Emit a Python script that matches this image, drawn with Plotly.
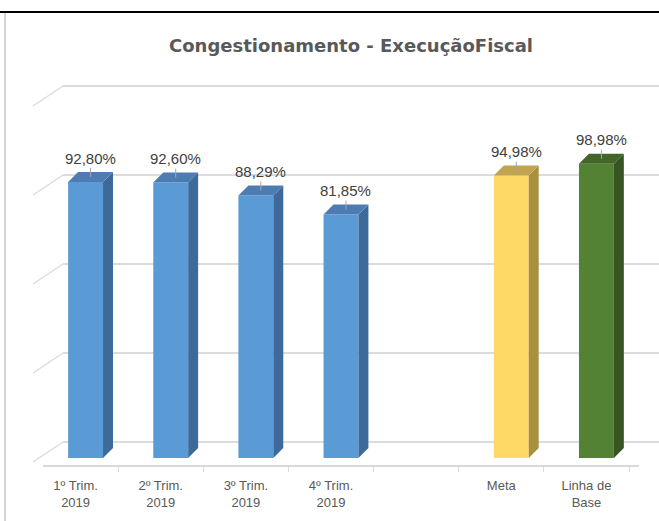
import plotly.graph_objects as go

# ---------------- data ----------------
categories = ["1º Trim.<br>2019", "2º Trim.<br>2019", "3º Trim.<br>2019", "4º Trim.<br>2019",
              " ", "Meta", "Linha de<br>Base"]
values = [92.80, 92.60, 88.29, 81.85, None, 94.98, 98.98]
series_kind = ["trim", "trim", "trim", "trim", None, "meta", "base"]
grid_values = [0, 30, 60, 90, 120]
title_text = "Congestionamento - ExecuçãoFiscal"

# ---------------- styles ----------------
W, H = 659, 521
ml, mr, mt, mb = 43, 20, 60, 56
colors = {
    "trim": {"front": "#5b9bd5", "side": "#3d6a9b", "top": "#4d7cb2"},
    "meta": {"front": "#ffd966", "side": "#a8903f", "top": "#c2a44f"},
    "base": {"front": "#548235", "side": "#365522", "top": "#42652a"},
}
bar_w = 0.41      # front face width (category units)
dx = 0.117        # 3-D depth offset in x (category units)
dy = 3.36         # 3-D depth offset in y (value units)


def pxx(p):
    return (p - ml) / (W - ml - mr)


def pxy(p):
    return (H - mb - p) / (H - mt - mb)


x_pos = list(range(len(categories)))

fig = go.Figure()

# front faces
for k in ["trim", "meta", "base"]:
    xs = [x for x, s in zip(x_pos, series_kind) if s == k]
    ys = [v for v, s in zip(values, series_kind) if s == k]
    fig.add_trace(go.Bar(x=xs, y=ys, width=bar_w, marker=dict(color=colors[k]["front"], line=dict(width=0)),
                         hoverinfo="skip", showlegend=False))

# side and top faces (derived from the values)
for x, v, s in zip(x_pos, values, series_kind):
    if v is None:
        continue
    r = x + bar_w / 2
    l = x - bar_w / 2
    side_x = [r, r + dx, r + dx, r, r]
    side_y = [0, dy, v + dy, v, 0]
    top_x = [l, r, r + dx, l + dx, l]
    top_y = [v, v, v + dy, v + dy, v]
    fig.add_trace(go.Scatter(x=side_x, y=side_y, mode="lines", fill="toself",
                             fillcolor=colors[s]["side"], line=dict(width=0),
                             hoverinfo="skip", showlegend=False))
    fig.add_trace(go.Scatter(x=top_x, y=top_y, mode="lines", fill="toself",
                             fillcolor=colors[s]["top"], line=dict(width=0),
                             hoverinfo="skip", showlegend=False))
    fig.add_annotation(x=x + dx / 2, y=v + dy / 2, xref="x", yref="y",
                       text=f"{v:.2f}".replace(".", ",") + "%",
                       showarrow=True, arrowhead=0, arrowwidth=1, arrowcolor="#a6a6a6",
                       ax=0, ay=-19, standoff=0,
                       font=dict(family="Liberation Sans, Arial", size=15, color="#404040"))

# label axis dummy trace (category axis for tick labels)
fig.add_trace(go.Scatter(x=categories, y=[None] * len(categories), xaxis="x2", yaxis="y2",
                         mode="markers", hoverinfo="skip", showlegend=False))

# back-wall gridlines and side-wall diagonals
for g in grid_values:
    fig.add_shape(type="line", xref="paper", yref="y2", x0=pxx(63), x1=pxx(W), y0=g, y1=g,
                  line=dict(color="#dcdcdc", width=2), layer="below")
    fig.add_shape(type="line", xref="paper", yref="y2", ysizemode="pixel", yanchor=g,
                  x0=pxx(33), x1=pxx(63), y0=-20, y1=0,
                  line=dict(color="#dcdcdc", width=1.5), layer="below")

# outer frame decorations
fig.add_shape(type="line", xref="paper", yref="paper", x0=pxx(0), x1=pxx(W), y0=pxy(12), y1=pxy(12),
              line=dict(color="#000000", width=2))
fig.add_shape(type="line", xref="paper", yref="paper", x0=pxx(5), x1=pxx(5), y0=pxy(H), y1=pxy(13),
              line=dict(color="#c8c8c8", width=1.5))

px_per_unit = 2.974
y_min = -(465 - 458) / px_per_unit
y_max = y_min + (H - mt - mb) / px_per_unit
# gridline axis: 0 at pixel 442, 89 px per 30 units
g_scale = 89 / 30
y2_min = (442 - 465) / g_scale
y2_max = (442 - mt) / g_scale

fig.update_layout(
    width=W, height=H,
    margin=dict(l=ml, r=mr, t=mt, b=mb),
    paper_bgcolor="white", plot_bgcolor="rgba(0,0,0,0)",
    barmode="overlay",
    title=dict(text=title_text, x=351 / W, xanchor="center", y=1 - 46 / H, yanchor="middle",
               font=dict(family="DejaVu Sans", size=18, color="#595959", weight="bold")),
    xaxis=dict(range=[-0.5, 6.5], visible=False, fixedrange=True),
    yaxis=dict(range=[y_min, y_max], visible=False, fixedrange=True),
    xaxis2=dict(overlaying="x", anchor="y2", side="bottom", type="category",
                range=[-0.5 + 10 / 85.2, 6.5 + 10 / 85.2],
                showline=True, linecolor="#d9d9d9", linewidth=1.5,
                ticks="outside", tickson="boundaries", ticklen=5, tickcolor="#d9d9d9",
                ticklabelstandoff=8,
                showgrid=False, zeroline=False,
                tickfont=dict(family="Liberation Sans, Arial", size=13, color="#595959")),
    yaxis2=dict(overlaying="y", range=[y2_min, y2_max], visible=False, fixedrange=True),
)

fig.write_html("out.html", config={"displayModeBar": False},
               post_script="document.body.style.margin='0px';")
